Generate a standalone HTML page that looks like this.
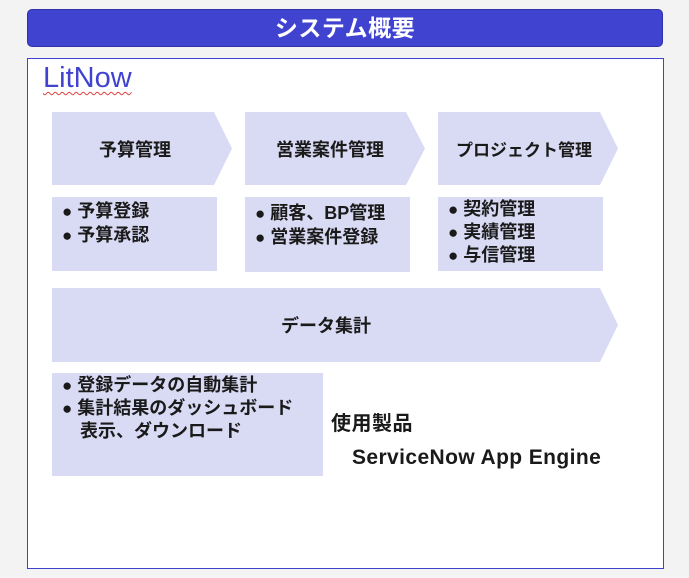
<!DOCTYPE html>
<html><head><meta charset="utf-8"><style>
body{margin:0;width:689px;height:578px;background:#f3f3f3;position:relative;overflow:hidden;font-family:"Liberation Sans","Noto Sans CJK JP",sans-serif;color:#1a1a1a}
.a{position:absolute}
.hdr{left:27px;top:9px;width:634px;height:36px;background:#4043d0;border:1px solid #2f32a8;border-radius:5px;color:#fff;font-weight:bold;font-size:23px;letter-spacing:0.5px;text-align:center;line-height:36px}
.frame{left:27px;top:58px;width:635px;height:509px;background:#fff;border:1px solid #4043d0}
.chev{background:#d9daf4;display:flex;align-items:center;justify-content:center;font-weight:bold;font-size:18px}
.box{background:#d9daf4;font-weight:bold;font-size:18px;line-height:22.5px;padding:4px 0 0 10px;box-sizing:border-box}
.b{font-size:17px;margin-right:5px}
</style></head><body>
<div class="a hdr">システム概要</div>
<div class="a frame"></div>
<div class="a" style="left:43px;top:62px;font-size:29px;color:#4043d0;text-decoration:underline wavy #e04040;text-decoration-thickness:1px;text-underline-offset:4px">LitNow</div>

<div class="a chev" style="left:52px;top:112px;width:180px;height:73px;clip-path:polygon(0 0,162px 0,180px 50%,162px 100%,0 100%);padding-right:14px;box-sizing:border-box">予算管理</div>
<div class="a chev" style="left:245px;top:112px;width:180px;height:73px;clip-path:polygon(0 0,161px 0,180px 50%,161px 100%,0 100%);padding-right:10px;box-sizing:border-box">営業案件管理</div>
<div class="a chev" style="left:438px;top:112px;width:180px;height:73px;clip-path:polygon(0 0,162px 0,180px 50%,162px 100%,0 100%);padding-right:8px;box-sizing:border-box;font-size:17px">プロジェクト管理</div>

<div class="a box" style="left:52px;top:197px;width:165px;height:74px;padding-top:3px"><span class="b">●</span>予算登録<br><span class="b">●</span>予算承認</div>
<div class="a box" style="left:245px;top:197px;width:165px;height:75px;padding-top:5px"><span class="b">●</span>顧客、BP管理<br><span class="b">●</span>営業案件登録</div>
<div class="a box" style="left:438px;top:197px;width:165px;height:74px;padding-top:1px;line-height:22px"><span class="b">●</span>契約管理<br><span class="b">●</span>実績管理<br><span class="b">●</span>与信管理</div>

<div class="a chev" style="left:52px;top:288px;width:566px;height:74px;clip-path:polygon(0 0,548px 0,566px 50%,548px 100%,0 100%);padding-right:18px;box-sizing:border-box">データ集計</div>

<div class="a box" style="left:52px;top:373px;width:271px;height:103px;padding-top:1px;line-height:23px"><span class="b">●</span>登録データの自動集計<br><span class="b">●</span>集計結果のダッシュボード<br><span style="margin-left:18px">表示、ダウンロード</span></div>

<div class="a" style="left:331px;top:407px;font-size:20px;letter-spacing:0.5px;font-weight:bold">使用製品</div>
<div class="a" style="left:352px;top:446px;font-size:21px;letter-spacing:0.4px;font-weight:bold">ServiceNow App Engine</div>
</body></html>
